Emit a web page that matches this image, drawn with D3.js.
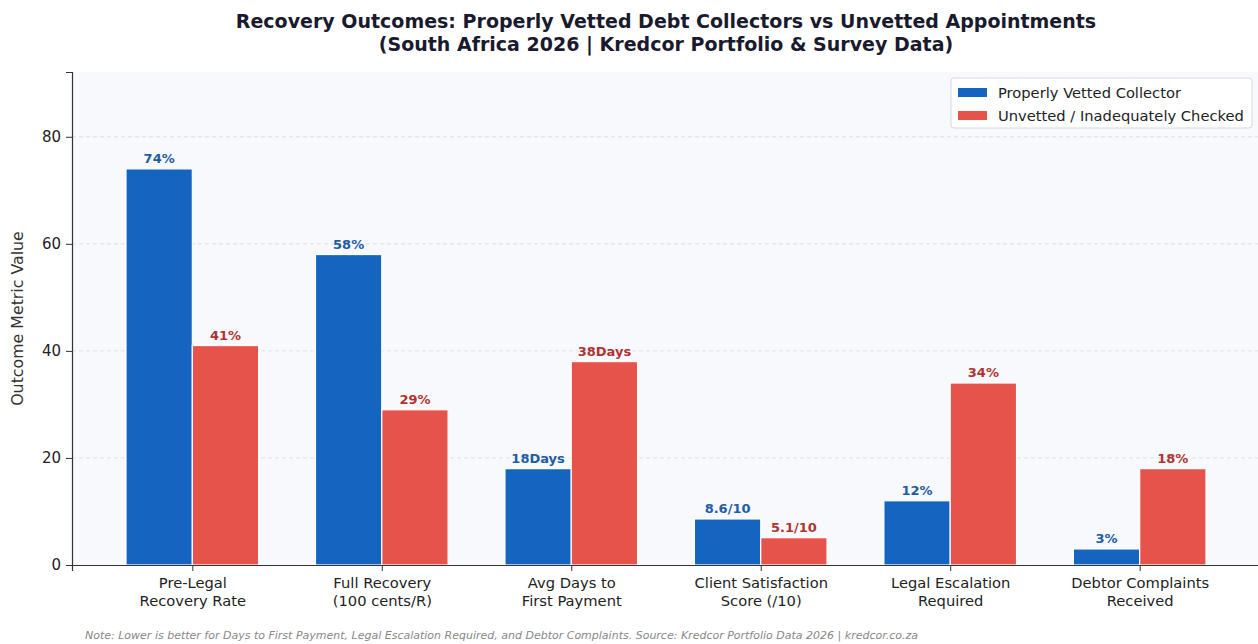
<!DOCTYPE html>
<html>
<head>
<meta charset="utf-8">
<script src="https://cdn.jsdelivr.net/npm/d3@7"></script>
<style>
  body { margin: 0; background: #fff; }
  svg { display: block; font-family: "DejaVu Sans", sans-serif; }
</style>
</head>
<body>
<svg width="1258" height="644"></svg>
<script>
// --- Data ---
const categories = [
  ["Pre-Legal", "Recovery Rate"],
  ["Full Recovery", "(100 cents/R)"],
  ["Avg Days to", "First Payment"],
  ["Client Satisfaction", "Score (/10)"],
  ["Legal Escalation", "Required"],
  ["Debtor Complaints", "Received"]
];
const vettedValues = [74, 58, 18, 8.6, 12, 3];
const unvettedValues = [41, 29, 38, 5.1, 34, 18];
const vettedLabels = ["74%", "58%", "18Days", "8.6/10", "12%", "3%"];
const unvettedLabels = ["41%", "29%", "38Days", "5.1/10", "34%", "18%"];
const seriesNames = ["Properly Vetted Collector", "Unvetted / Inadequately Checked"];
const yTicks = [0, 20, 40, 60, 80];

// --- Setup ---
const svg = d3.select("svg");
const margin = {left: 72, right: -2, top: 72, bottom: 79};
const width = +svg.attr("width"), height = +svg.attr("height");
const x0 = margin.left, x1 = width - margin.right;
const y0 = height - margin.bottom, y1 = margin.top;

const barW = 0.35;
const x = d3.scaleLinear().domain([-0.635, 5.635]).range([x0, x1]);
const y = d3.scaleLinear().domain([0, 92.1]).range([y0, y1]);

const blue = "#1565c0", red = "#e5534b";
const blueText = "#1f5ca3", redText = "#b03333";

// axes background
svg.append("rect")
  .attr("x", x0).attr("y", y1)
  .attr("width", x1 - x0).attr("height", y0 - y1)
  .attr("fill", "#f7f9fc");

// grid
svg.append("g").selectAll("line")
  .data(yTicks.filter(d => d > 0))
  .enter().append("line")
    .attr("x1", x0).attr("x2", x1)
    .attr("y1", d => y(d)).attr("y2", d => y(d))
    .attr("stroke", "#d5d9e0")
    .attr("stroke-width", 0.8)
    .attr("stroke-dasharray", "4,3");

// --- Bars ---
const idx = d3.range(categories.length);
const series = [
  {vals: vettedValues, labels: vettedLabels, off: -barW / 2, fill: blue, text: blueText},
  {vals: unvettedValues, labels: unvettedLabels, off: barW / 2, fill: red, text: redText}
];

series.forEach(s => {
  const g = svg.append("g");
  g.selectAll("rect")
    .data(idx)
    .enter().append("rect")
      .attr("x", i => x(i + s.off - barW / 2))
      .attr("y", i => y(s.vals[i]))
      .attr("width", x(barW) - x(0))
      .attr("height", i => y(0) - y(s.vals[i]))
      .attr("fill", s.fill)
      .attr("stroke", "#fff")
      .attr("stroke-width", 1.2);
  g.selectAll("text")
    .data(idx)
    .enter().append("text")
      .attr("x", i => x(i + s.off))
      .attr("y", i => y(s.vals[i]) - 6)
      .attr("text-anchor", "middle")
      .attr("font-size", "13px")
      .attr("font-weight", "bold")
      .attr("fill", s.text)
      .text(i => s.labels[i]);
});

// --- Axes ---
const yAxis = svg.append("g")
  .attr("transform", `translate(${x0},0)`)
  .call(d3.axisLeft(y).tickValues(yTicks).tickSize(6).tickPadding(5));
yAxis.select(".domain").attr("stroke", "#333").attr("stroke-width", 1.2);
yAxis.selectAll(".tick line").attr("stroke", "#333");
yAxis.selectAll(".tick text").attr("font-size", "15px").attr("fill", "#222")
  .attr("font-family", "DejaVu Sans");

const xAxis = svg.append("g")
  .attr("transform", `translate(0,${y0})`)
  .call(d3.axisBottom(x).tickValues(idx).tickSize(6).tickFormat(""));
xAxis.select(".domain").attr("stroke", "#333").attr("stroke-width", 1.2);
xAxis.selectAll(".tick line").attr("stroke", "#333");
xAxis.selectAll(".tick").append("text")
  .attr("fill", "#222")
  .attr("font-size", "14.7px")
  .attr("font-family", "DejaVu Sans")
  .attr("text-anchor", "middle")
  .each(function(i) {
    const t = d3.select(this);
    categories[i].forEach((line, k) => {
      t.append("tspan").attr("x", 0).attr("y", 23 + k * 18).text(line);
    });
  });

// y label
svg.append("text")
  .attr("transform", `translate(23,${(y0 + y1) / 2}) rotate(-90)`)
  .attr("text-anchor", "middle")
  .attr("font-size", "15.8px")
  .attr("fill", "#333")
  .text("Outcome Metric Value");

// --- Title ---
const cx = (x0 + x1) / 2;
svg.append("text")
  .attr("x", cx).attr("y", 28)
  .attr("text-anchor", "middle")
  .attr("font-size", "19px")
  .attr("font-weight", "bold")
  .attr("fill", "#1a1a2e")
  .text("Recovery Outcomes: Properly Vetted Debt Collectors vs Unvetted Appointments");
svg.append("text")
  .attr("x", cx).attr("y", 51)
  .attr("text-anchor", "middle")
  .attr("font-size", "19px")
  .attr("font-weight", "bold")
  .attr("fill", "#1a1a2e")
  .text("(South Africa 2026 | Kredcor Portfolio & Survey Data)");

// --- Legend ---
const lg = svg.append("g").attr("transform", "translate(951,78)");
lg.append("rect")
  .attr("width", 301).attr("height", 50).attr("rx", 3)
  .attr("fill", "#fff").attr("fill-opacity", 0.9)
  .attr("stroke", "#d8d8d8");
[blue, red].forEach((c, k) => {
  lg.append("rect")
    .attr("x", 7).attr("y", 10 + k * 23)
    .attr("width", 29).attr("height", 9)
    .attr("fill", c);
  lg.append("text")
    .attr("x", 47).attr("y", 20 + k * 23)
    .attr("font-size", "14.7px")
    .attr("fill", "#222")
    .text(seriesNames[k]);
});

// --- Footnote ---
svg.append("text")
  .attr("x", 85).attr("y", 639)
  .attr("font-size", "11px")
  .attr("font-style", "italic")
  .attr("fill", "#888")
  .text("Note: Lower is better for Days to First Payment, Legal Escalation Required, and Debtor Complaints. Source: Kredcor Portfolio Data 2026 | kredcor.co.za");
</script>
</body>
</html>
